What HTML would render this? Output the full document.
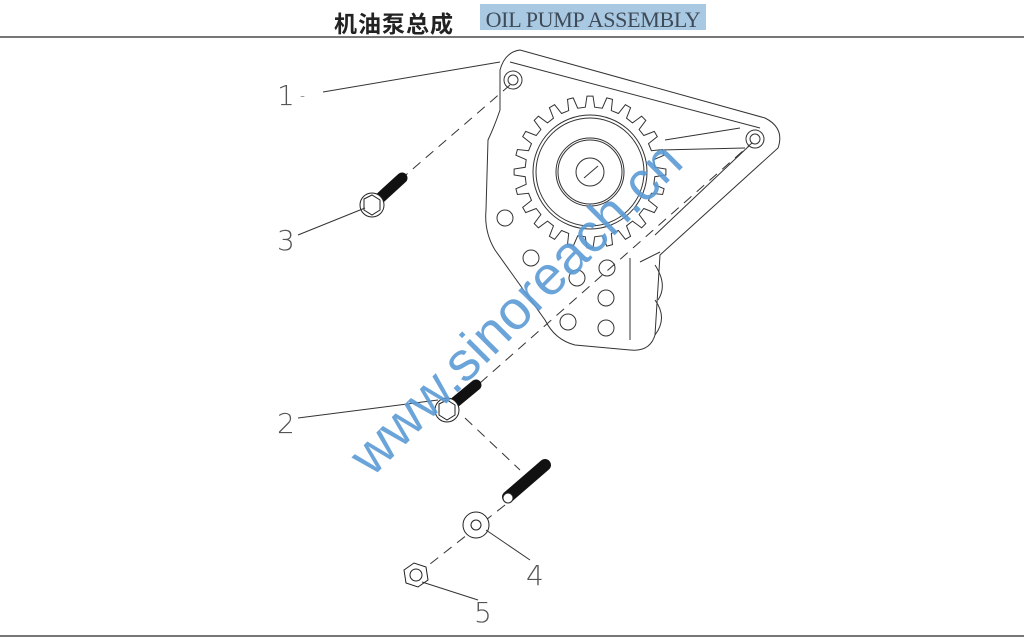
<!DOCTYPE html>
<html><head><meta charset="utf-8"><style>
html,body{margin:0;padding:0;background:#fff;}
body{width:1024px;height:638px;position:relative;overflow:hidden;}
.cn{position:absolute;left:334px;top:5px;font:bold 23px "Liberation Sans","Noto Sans CJK SC",sans-serif;color:#222;letter-spacing:1px;}
.en{position:absolute;left:480px;top:4px;width:226px;height:26px;background:#a9c9e2;font:22px "Liberation Serif",serif;color:#3e4a58;line-height:32px;text-align:center;white-space:nowrap;letter-spacing:-0.3px;}
</style></head><body>
<div class="cn">机油泵总成</div>
<div class="en">OIL PUMP ASSEMBLY</div>
<svg width="1024" height="638" style="position:absolute;left:0;top:0" xmlns="http://www.w3.org/2000/svg">
<line x1="0" y1="37" x2="1024" y2="37" stroke="#777" stroke-width="2"/>
<line x1="0" y1="636" x2="1024" y2="636" stroke="#777" stroke-width="2"/>
<g fill="none" stroke="#333" stroke-width="1">
<path d="M500,70 Q505,52 520,50 L765,118 Q785,128 778,148 L660,255 L655,335 Q650,352 630,350 L575,345 Q555,340 545,320 L495,250 Q484,232 486,210 L488,140 Q495,125 500,110 Z" fill="#fff"/>
<path d="M510,62 L760,128 M750,145 L655,235 M665,140 L740,128 M660,150 L745,148"/>
<path d="M630,258 L630,340 M640,262 L660,252 M655,265 Q668,285 658,300 M655,300 Q668,318 655,335"/>
<circle cx="513" cy="80" r="9" fill="#fff"/><circle cx="513" cy="80" r="5"/>
<circle cx="755" cy="139" r="9" fill="#fff"/><circle cx="755" cy="139" r="5"/>
<path id="gear" fill="#fff"/>
<circle cx="590" cy="172" r="57"/><circle cx="590" cy="172" r="54"/>
<circle cx="590" cy="172" r="34"/><circle cx="590" cy="172" r="32"/>
<circle cx="590" cy="172" r="14"/><line x1="584" y1="178" x2="598" y2="166"/>
<circle cx="505" cy="218" r="8"/><circle cx="531" cy="258" r="8"/>
<circle cx="577" cy="278" r="8"/><circle cx="607" cy="268" r="8"/>
<circle cx="606" cy="298" r="8"/><circle cx="568" cy="322" r="8"/><circle cx="606" cy="328" r="8"/>
</g>
<g stroke="#333" stroke-width="1" stroke-dasharray="10,7" fill="none">
<line x1="400" y1="180" x2="510" y2="85"/>
<line x1="480" y1="383" x2="752" y2="143"/>
<line x1="465" y1="418" x2="520" y2="470"/>
<line x1="505" y1="505" x2="425" y2="568"/>
</g>
<g stroke="#222" stroke-width="1">
<line x1="378" y1="200" x2="402" y2="178" stroke="#111" stroke-width="11" stroke-linecap="round"/>
<circle cx="372" cy="205" r="12" fill="#fff"/><polygon points="364,199 372,195 380,200 380,210 372,215 364,210" fill="#fff"/>
<line x1="453" y1="404" x2="476" y2="385" stroke="#111" stroke-width="11" stroke-linecap="round"/>
<circle cx="447" cy="410" r="12" fill="#fff"/><polygon points="439,404 447,400 455,405 455,415 447,420 439,415" fill="#fff"/>
<line x1="508" y1="497" x2="545" y2="465" stroke="#111" stroke-width="12" stroke-linecap="round"/>
<circle cx="508" cy="498" r="5" fill="#fff"/>
<circle cx="476" cy="525" r="13" fill="#fff"/><circle cx="476" cy="525" r="5" fill="none"/>
<polygon points="404,570 414,563 426,567 428,580 418,587 406,583" fill="#fff"/><circle cx="416" cy="575" r="6" fill="none"/>
</g>
<g stroke="#333" stroke-width="1">
<line x1="323" y1="92" x2="500" y2="62"/>
<line x1="298" y1="235" x2="365" y2="208"/>
<line x1="298" y1="418" x2="438" y2="400"/>
<line x1="486" y1="530" x2="530" y2="560"/>
<line x1="422" y1="582" x2="478" y2="600"/>
</g>
<g font-family="DejaVu Sans, sans-serif" font-size="28" fill="#555" font-weight="200">
<text x="277" y="105">1</text><text x="300" y="100" font-size="14">-</text>
<text x="277" y="250">3</text>
<text x="277" y="433">2</text>
<text x="526" y="585">4</text>
<text x="474" y="622">5</text>
</g>
<text x="0" y="0" transform="translate(372,478) rotate(-45)" font-family="Liberation Sans, sans-serif" font-size="55" fill="#5b9bd5" opacity="0.9">www.sinoreach.cn</text>
</svg>
<script>
var cx=590,cy=172,n=24,ro=76,ri=65,d="";
for(var i=0;i<n;i++){var a=i*2*Math.PI/n,s=Math.PI/n;
var pts=[[ri,a-s*0.55],[ro,a-s*0.3],[ro,a+s*0.3],[ri,a+s*0.55]];
pts.forEach(function(p,j){d+=(i==0&&j==0?"M":"L")+(cx+p[0]*Math.cos(p[1])).toFixed(1)+","+(cy+p[0]*Math.sin(p[1])).toFixed(1);});}
document.getElementById("gear").setAttribute("d",d+"Z");
</script>
</body></html>
